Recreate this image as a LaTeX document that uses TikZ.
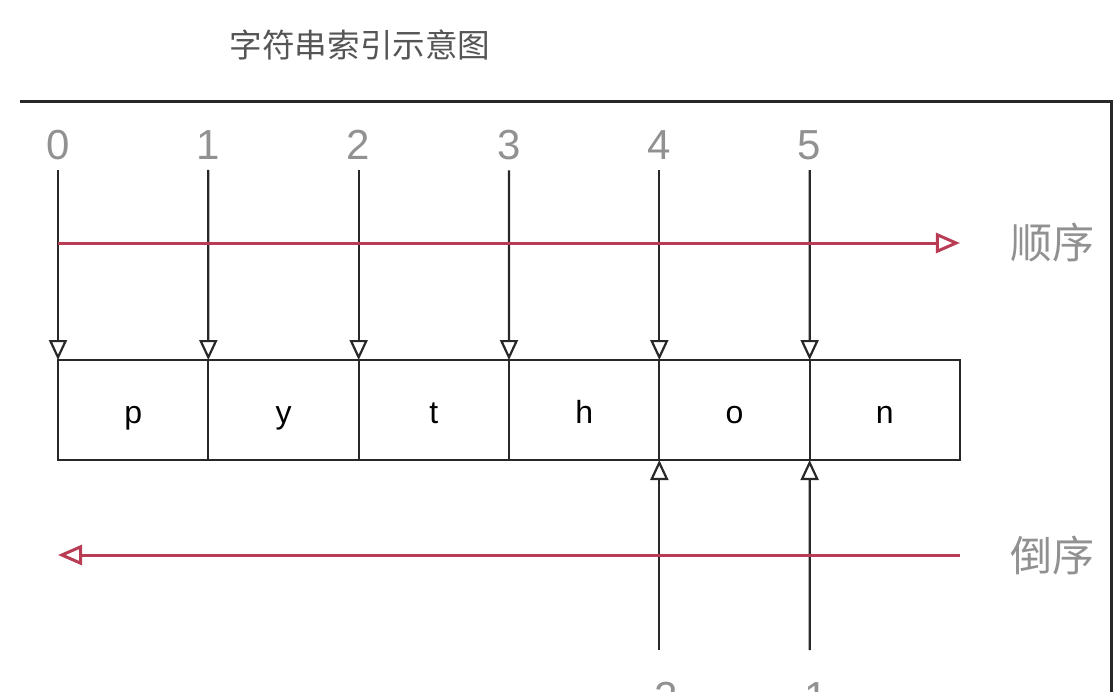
\documentclass[tikz,border=0pt]{standalone}
\usepackage{fontspec}
\setmainfont{Liberation Sans}
\newfontfamily\cjk{Noto Sans CJK SC}
\usepackage{xcolor}
\usetikzlibrary{arrows.meta}
\definecolor{idxgray}{RGB}{145,145,145}
\definecolor{titlegray}{RGB}{85,85,85}
\definecolor{ordred}{RGB}{184,60,84}
\definecolor{linegray}{RGB}{40,40,40}

\begin{document}
\begin{tikzpicture}[x = 0.5pt, y = -0.5pt,
        cell/.style = {draw = linegray, line width = 1.1pt, minimum width = 75.17pt, minimum height = 50pt, inner sep = 0pt, outer sep = 0pt, text height = 13pt, text depth = 0pt, font = \fontsize{16}{16}\selectfont},
        idx/.style = {text = idxgray, inner sep = 0pt, font = \fontsize{21}{21}\selectfont},
        dir/.style = {text = idxgray, inner sep = 0pt, font = \cjk\fontsize{21}{21}\selectfont},
        ptr/.style = {draw = linegray, line width = 1.1pt, -{Triangle[open, length = 10pt, width = 9pt]}},
        ord/.style = {draw = ordred, line width = 1.5pt, -{Triangle[open, length = 12pt, width = 10pt]}}]
        \useasboundingbox (0, 0) rectangle (1116, 692);
        \node[text = titlegray, font = \cjk\fontsize{16.3}{16.3}\selectfont] (title) at (360, 45) {字符串索引示意图};
        \draw[draw = linegray, line width = 1.5pt] (20, 101) -- (1111, 101) -- (1111, 692);
        % the string
        \foreach \ch [count = \k from 0] in {p, y, t, h, o, n}
            \node[cell] (c\k) at ({133.17 + 150.33*\k}, 410) {\ch};
        % positive indices
        \foreach \k in {0, ..., 5} {
            \node[idx] (i\k) at ({58 + 150.33*\k}, 145) {\k};
            \draw[ptr, shorten <= 5pt] (i\k.south) -- (c\k.north west);
        }
        % negative indices
        \node[idx] (n4) at ({58 + 150.33*4}, 697) {-2};
        \node[idx] (n5) at ({58 + 150.33*5}, 697) {-1};
        \draw[ptr, shorten <= 16pt] (n4.north) -- (c4.south west);
        \draw[ptr, shorten <= 16pt] (n5.north) -- (c5.south west);
        % directions
        \node[dir] (fwd) at (1052, 243) {顺序};
        \node[dir] (bwd) at (1052, 555) {倒序};
        \draw[ord] (c0.west |- fwd) -- (c5.east |- fwd);
        \draw[ord] (c5.east |- bwd) -- (c0.west |- bwd);
    \end{tikzpicture}
\end{document}
